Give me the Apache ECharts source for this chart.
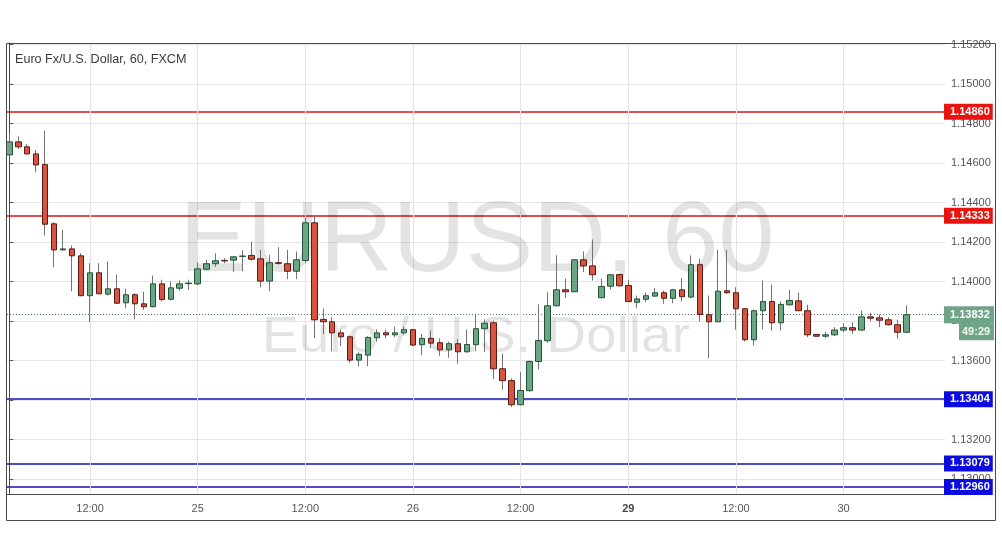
<!DOCTYPE html>
<html><head><meta charset="utf-8">
<script src="https://cdn.jsdelivr.net/npm/echarts@6/dist/echarts.min.js"></script>
<style>html,body{margin:0;padding:0;background:#fff}#c{width:1002px;height:557px}</style>
</head><body><div id="c"></div>
<script>
// Hourly candles, EURUSD 60, from 24th 03:00 to 30th 07:00 (index = hour slot)
const opens = [1.14641,1.14707,1.14682,1.14646,1.14592,1.14292,1.14160,1.14165,1.14130,1.13928,
1.14044,1.13936,1.13963,1.13892,1.13933,1.13887,1.13872,1.13988,1.13910,1.13966,
1.13989,1.13988,1.14062,1.14090,1.14107,1.14108,1.14127,1.14132,1.14115,1.14002,
1.14095,1.14090,1.14052,1.14106,1.14297,1.13808,1.13796,1.13740,1.13720,1.13602,
1.13627,1.13715,1.13740,1.13730,1.13740,1.13756,1.13680,1.13712,1.13690,1.13654,
1.13685,1.13644,1.13680,1.13761,1.13791,1.13558,1.13498,1.13376,1.13447,1.13595,
1.13700,1.13877,1.13958,1.13948,1.14110,1.14079,1.13918,1.13976,1.14035,1.13980,
1.13895,1.13910,1.13926,1.13943,1.13915,1.13958,1.13921,1.14085,1.13832,1.13796,
1.13953,1.13943,1.13862,1.13705,1.13852,1.13899,1.13791,1.13882,1.13902,1.13852,
1.13732,1.13723,1.13730,1.13754,1.13766,1.13754,1.13821,1.13816,1.13806,1.13781,
1.13743];
const highs = [1.14750,1.14734,1.14697,1.14666,1.14764,1.14300,1.14262,1.14182,1.14143,1.14093,
1.14093,1.14101,1.14035,1.13963,1.13941,1.13948,1.14030,1.14009,1.14000,1.14005,
1.14009,1.14096,1.14110,1.14143,1.14118,1.14128,1.14160,1.14201,1.14160,1.14135,
1.14174,1.14160,1.14152,1.14322,1.14329,1.13863,1.13819,1.13756,1.13727,1.13642,
1.13722,1.13757,1.13756,1.13772,1.13771,1.13759,1.13735,1.13752,1.13712,1.13696,
1.13708,1.13757,1.13837,1.13808,1.13803,1.13634,1.13509,1.13541,1.13600,1.13884,
1.13946,1.14133,1.14015,1.14111,1.14152,1.14213,1.14014,1.14035,1.14039,1.14009,
1.13929,1.13944,1.13968,1.13954,1.13963,1.14017,1.14132,1.14115,1.13929,1.14160,
1.14160,1.13971,1.13865,1.13857,1.14005,1.13985,1.13900,1.13958,1.13943,1.13882,
1.13735,1.13745,1.13769,1.13789,1.13794,1.13853,1.13842,1.13833,1.13819,1.13806,
1.13879];
const lows = [1.14633,1.14671,1.14644,1.14553,1.14233,1.14072,1.14157,1.13951,1.13926,1.13794,
1.13935,1.13929,1.13887,1.13865,1.13809,1.13857,1.13870,1.13899,1.13904,1.13954,
1.13958,1.13981,1.14056,1.14074,1.14093,1.14047,1.14052,1.14106,1.13971,1.13951,
1.14086,1.14012,1.14012,1.14096,1.13713,1.13735,1.13647,1.13673,1.13589,1.13570,
1.13571,1.13695,1.13712,1.13718,1.13727,1.13673,1.13627,1.13661,1.13624,1.13614,
1.13584,1.13640,1.13647,1.13642,1.13506,1.13452,1.13364,1.13372,1.13443,1.13555,
1.13690,1.13875,1.13918,1.13946,1.14047,1.14005,1.13915,1.13960,1.13975,1.13895,
1.13865,1.13895,1.13924,1.13887,1.13890,1.13900,1.13915,1.13798,1.13612,1.13794,
1.13938,1.13756,1.13696,1.13676,1.13757,1.13752,1.13752,1.13879,1.13850,1.13718,
1.13720,1.13713,1.13723,1.13743,1.13735,1.13752,1.13799,1.13769,1.13777,1.13710,
1.13741];
const closes = [1.14707,1.14682,1.14646,1.14590,1.14290,1.14160,1.14165,1.14130,1.13928,1.14044,
1.13938,1.13963,1.13890,1.13933,1.13887,1.13872,1.13988,1.13909,1.13968,1.13988,
1.13992,1.14064,1.14090,1.14105,1.14104,1.14125,1.14129,1.14113,1.14002,1.14095,
1.14092,1.14052,1.14110,1.14297,1.13806,1.13796,1.13740,1.13720,1.13602,1.13631,
1.13717,1.13740,1.13730,1.13740,1.13756,1.13678,1.13712,1.13688,1.13654,1.13685,
1.13644,1.13681,1.13761,1.13789,1.13558,1.13498,1.13376,1.13448,1.13595,1.13701,
1.13877,1.13958,1.13948,1.14110,1.14079,1.14034,1.13975,1.14034,1.13978,1.13899,
1.13912,1.13928,1.13943,1.13915,1.13958,1.13923,1.14085,1.13833,1.13796,1.13951,
1.13943,1.13862,1.13705,1.13852,1.13899,1.13791,1.13884,1.13904,1.13852,1.13730,
1.13723,1.13730,1.13754,1.13766,1.13754,1.13821,1.13814,1.13804,1.13781,1.13743,
1.13832];

const xTickIndex = [9, 21, 33, 45, 57, 69, 81, 93];
const xTickLabels = ['12:00', '25', '12:00', '26', '12:00', '29', '12:00', '30'];
const yTicks = [1.130, 1.132, 1.134, 1.136, 1.138, 1.140, 1.142, 1.144, 1.146, 1.148, 1.150, 1.152];
const support = [1.12960, 1.13079, 1.13404];
const resistance = [1.14333, 1.14860];
const lastPrice = 1.13832;
const countdown = '49:29';
const titleText = 'Euro Fx/U.S. Dollar, 60, FXCM';
const watermark1 = 'EURUSD, 60';
const watermark2 = 'Euro / U.S. Dollar';

const FONT = '"Liberation Sans", Arial, sans-serif';
const RED_LINE = '#d41515', RED_BOX = '#e8140f';
const BLUE_LINE = '#1212b4', BLUE_BOX = '#0c0ce0';
const Y_MIN = 1.12924, Y_MAX = 1.152076;

const candles = opens.map((o, i) => [i, o, closes[i], lows[i], highs[i]]);
const bodies = opens.map((o, i) => [i, o, closes[i], Math.min(o, closes[i]), Math.max(o, closes[i])]);

function boxLabel(v, boxColor) {
  return {
    show: true, position: 'end', distance: -1,
    formatter: v.toFixed(5),
    backgroundColor: boxColor, color: '#fff', fontWeight: 'bold',
    fontSize: 11, fontFamily: FONT, lineHeight: 13,
    padding: [2, 3, 1, 6]
  };
}

const priceLabel = {
  show: true, position: 'end', distance: -1,
  formatter: '{e|}\n{a|' + lastPrice.toFixed(5) + '}\n{s|}{b|' + countdown + '}',
  rich: {
    e: { height: 17, lineHeight: 17 },
    a: { backgroundColor: '#6fa586', color: '#fff', fontWeight: 'bold', fontSize: 11,
         fontFamily: FONT, width: 41, height: 17, lineHeight: 17, padding: [0, 3, 0, 6] },
    s: { width: 15, height: 17, lineHeight: 17 },
    b: { backgroundColor: '#6fa586', color: '#f2f7f3', fontWeight: 'bold', fontSize: 11,
         fontFamily: FONT, width: 29, height: 17, lineHeight: 17, padding: [0, 3, 0, 3] }
  }
};

function levelAxis(values, color, type, width) {
  return {
    type: 'value', position: 'right', min: Y_MIN, max: Y_MAX, scale: true,
    axisLine: { show: false }, axisLabel: { show: false },
    axisTick: { show: false, customValues: values },
    splitLine: { show: true, lineStyle: { color: color, width: width, type: type } }
  };
}

const chart = echarts.init(document.getElementById('c'), null, { renderer: 'canvas' });
chart.setOption({
  animation: false,
  backgroundColor: '#ffffff',
  title: {
    text: titleText, left: 15, top: 53, padding: 0,
    textStyle: { fontSize: 12.6, fontWeight: 'normal', color: '#3a3a3a', fontFamily: FONT }
  },
  graphic: [
    { type: 'text', z: 1, x: 477, y: 243,
      style: { text: watermark1, font: '101px "Liberation Sans", Arial, sans-serif',
               fill: 'rgba(0,0,0,0.11)', textAlign: 'center', textVerticalAlign: 'middle' } },
    { type: 'text', z: 1, x: 476, y: 338, scaleX: 1.1,
      style: { text: watermark2, font: '50px "Liberation Sans", Arial, sans-serif',
               fill: 'rgba(0,0,0,0.11)', textAlign: 'center', textVerticalAlign: 'middle' } },
    { type: 'rect', z: 10, silent: true,
      shape: { x: 6.5, y: 43.5, width: 989, height: 477 },
      style: { fill: 'none', stroke: '#4a4a4a', lineWidth: 1 } }
  ],
  grid: { left: 7, right: 57, top: 43, bottom: 63, containLabel: false },
  xAxis: {
    type: 'value', min: -0.256, max: 104.31,
    axisLine: { show: true, lineStyle: { color: '#4a4a4a' } },
    axisTick: { show: false, customValues: xTickIndex },
    splitLine: { show: true, lineStyle: { color: '#e4e4e4' } },
    axisLabel: {
      customValues: xTickIndex, margin: 9, color: '#555', fontSize: 11, fontFamily: FONT,
      formatter: v => {
        const t = xTickLabels[xTickIndex.indexOf(Math.round(v))] || '';
        return t === '29' ? '{b|' + t + '}' : t;
      },
      rich: { b: { fontWeight: 'bold', color: '#444', fontSize: 11, fontFamily: FONT } }
    }
  },
  yAxis: [
    {
      type: 'value', position: 'right', min: Y_MIN, max: Y_MAX, scale: true,
      axisLine: { show: true, lineStyle: { color: '#4a4a4a' } },
      axisTick: { show: true, length: 4, customValues: yTicks, lineStyle: { color: '#555' } },
      splitLine: { show: true, lineStyle: { color: '#e4e4e4' } },
      axisLabel: {
        customValues: yTicks, margin: 6, color: '#555', fontSize: 11, fontFamily: FONT,
        formatter: v => v.toFixed(5)
      }
    },
    levelAxis(support, BLUE_LINE, 'solid', 1.5),
    levelAxis(resistance, RED_LINE, 'solid', 1.5),
    levelAxis([lastPrice], '#5f7f6c', [1, 2], 1)
  ],
  series: [
    {
      name: 'wicks', type: 'candlestick', data: candles,
      encode: { x: 0, y: [1, 2, 3, 4] }, barWidth: 1, z: 2,
      itemStyle: { color: '#737375', color0: '#737375', borderColor: '#737375', borderColor0: '#737375', borderWidth: 1 }
    },
    {
      name: 'EURUSD', type: 'candlestick', data: bodies,
      encode: { x: 0, y: [1, 2, 3, 4] }, barWidth: 6, z: 3,
      itemStyle: {
        color: '#6ba583', color0: '#d75442',
        borderColor: '#225437', borderColor0: '#5b1a13', borderWidth: 1
      }
    },
    {
      name: 'levels', type: 'line', data: [], silent: true, z: 4,
      markLine: {
        symbol: 'none', silent: true, animation: false, precision: 5,
        lineStyle: { color: 'rgba(0,0,0,0)', width: 0 },
        data: support.map(v => ({ yAxis: v, label: boxLabel(v, BLUE_BOX) }))
          .concat(resistance.map(v => ({ yAxis: v, label: boxLabel(v, RED_BOX) })))
          .concat([{ yAxis: lastPrice, label: priceLabel }])
      }
    }
  ]
});
</script></body></html>
